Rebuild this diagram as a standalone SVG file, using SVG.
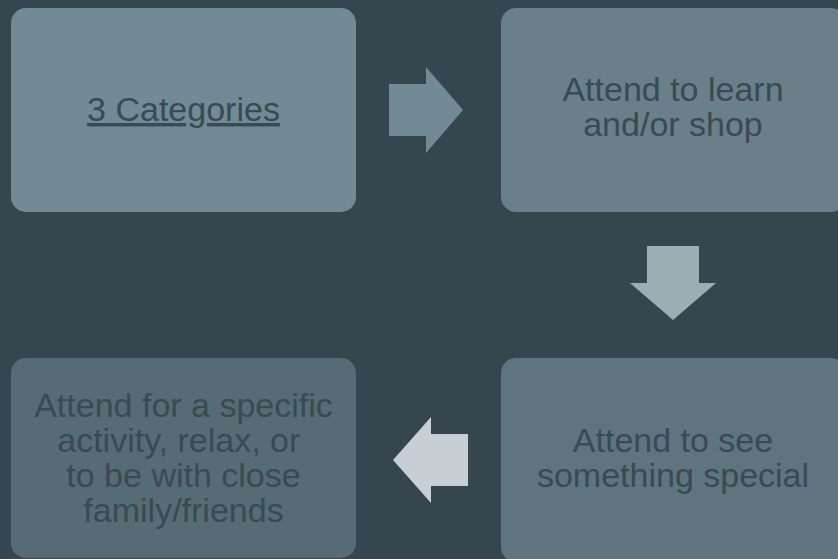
<svg xmlns="http://www.w3.org/2000/svg" width="838" height="559" viewBox="0 0 838 559">
  <style>
    .box { stroke: none; }
    .label { font-family: "Liberation Sans", Arial, sans-serif; font-size: 34px; fill: #384a54; text-anchor: middle; }
  </style>
  <rect x="0" y="0" width="838" height="559" fill="#36464f"/>

  <g id="connectors">
    <polygon points="389,84 426,84 426,67 463,110 426,153 426,136 389,136" fill="#718a95"/>
    <polygon points="647,246 699,246 699,283 716,283 673,320 630,283 647,283" fill="#9eadb4"/>
    <polygon points="468,434 431,434 431,417 393,460 431,503 431,486 468,486" fill="#c8cfd4"/>
  </g>

  <g id="node-categories">
    <rect class="box" x="11" y="8" width="345" height="204" rx="15" fill="#718a95"/>
    <text class="label" x="183.5" y="121" text-decoration="underline">3 Categories</text>
  </g>

  <g id="node-learn-shop">
    <rect class="box" x="501" y="8" width="345" height="204" rx="15" fill="#6a7f8a"/>
    <text class="label" x="673" y="101">Attend to learn</text>
    <text class="label" x="673" y="136">and/or shop</text>
  </g>

  <g id="node-see-special">
    <rect class="box" x="501" y="358" width="345" height="204" rx="15" fill="#60747f"/>
    <text class="label" x="673" y="452">Attend to see</text>
    <text class="label" x="673" y="487">something special</text>
  </g>

  <g id="node-activity">
    <rect class="box" x="11" y="358" width="345" height="200" rx="15" fill="#576b75"/>
    <text class="label" x="183.5" y="417">Attend for a specific</text>
    <text class="label" x="183.5" y="452" xml:space="preserve">activity, relax, or </text>
    <text class="label" x="183.5" y="487">to be with close</text>
    <text class="label" x="183.5" y="522">family/friends</text>
  </g>
</svg>
